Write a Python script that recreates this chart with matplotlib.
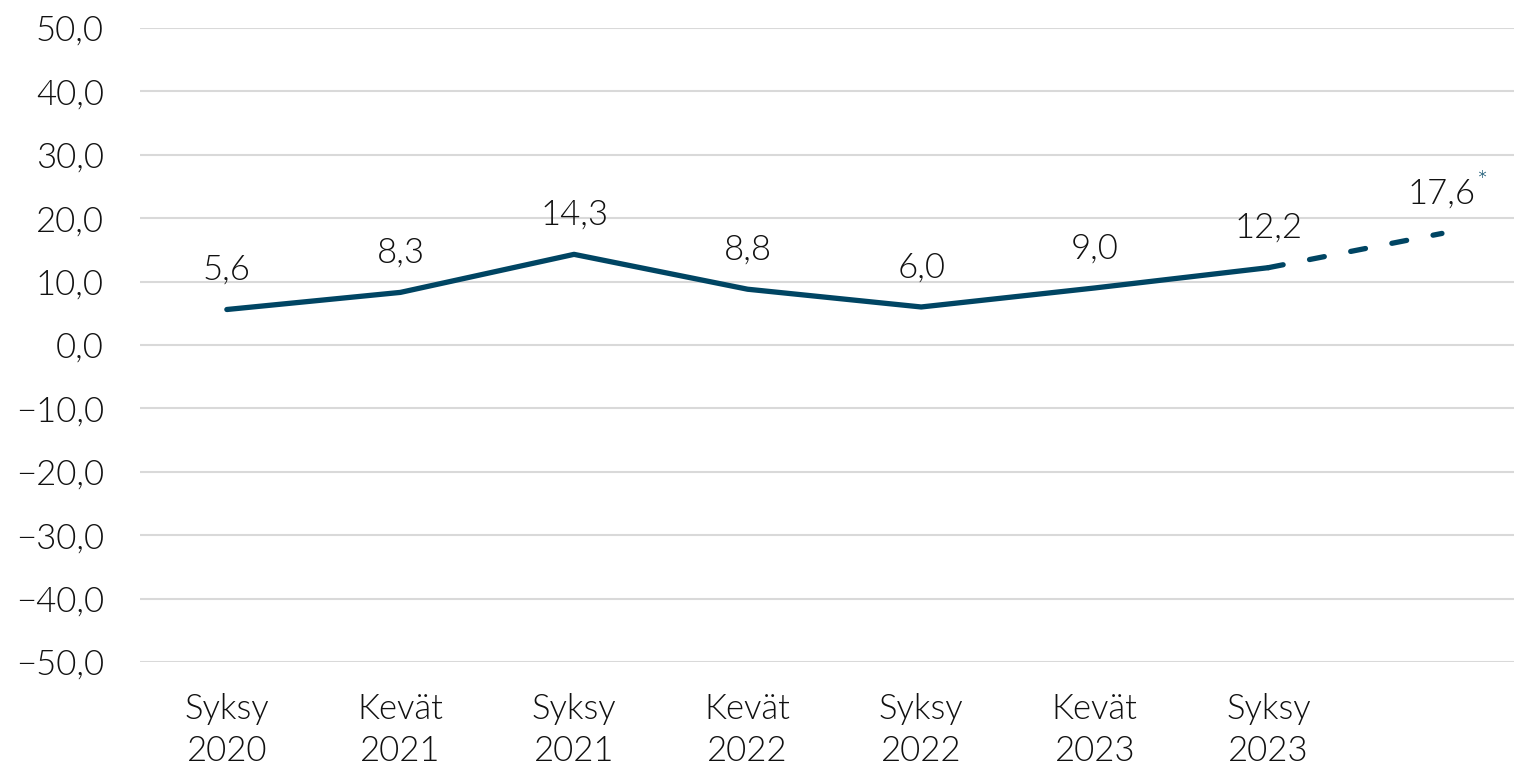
import matplotlib
matplotlib.use("Agg")
import matplotlib.pyplot as plt

plt.rcParams['font.family'] = ['Lato', 'DejaVu Sans']
plt.rcParams['font.weight'] = 300

periods = ["Syksy\n2020", "Kevät\n2021", "Syksy\n2021", "Kevät\n2022",
           "Syksy\n2022", "Kevät\n2023", "Syksy\n2023", ""]
values = [5.6, 8.3, 14.3, 8.8, 6.0, 9.0, 12.2, 17.6]
n_actual = 7  # last point is a forecast
yticks = [-50, -40, -30, -20, -10, 0, 10, 20, 30, 40, 50]

line_color = "#004563"
text_color = "#111111"
fs = 25


def fi(v):
    return f"{v:.1f}".replace(".", ",").replace("-", "\u2212")


fig = plt.figure(figsize=(15.14, 7.65), dpi=100)
ax = fig.add_axes([0.0925, 0.1346, 0.9075, 0.8288])

x = list(range(len(values)))
ax.plot(x[:n_actual], values[:n_actual], color=line_color, lw=3.8,
        solid_capstyle='round', solid_joinstyle='round')
ax.plot(x[n_actual - 1:], values[n_actual - 1:], color=line_color, lw=3.8,
        dashes=(2.85, 5.1), dash_capstyle='round')

for xi, v in zip(x, values):
    ax.annotate(fi(v), (xi, v), xytext=(0, 17),
                textcoords='offset points', ha='center', va='bottom',
                fontsize=fs, color=text_color, fontweight=300)
# asterisk on the forecast label
ax.annotate("*", (x[-1], values[-1]), xytext=(28.5, 28), textcoords='offset points',
            ha='center', va='bottom', fontsize=19, color=line_color)

ax.set_ylim(-50, 50)
ax.set_xlim(-0.5, 7.415)
ax.set_yticks(yticks)
ax.set_yticklabels([fi(t) for t in yticks])
ax.set_xticks(x)
ax.set_xticklabels(periods)
ax.tick_params(length=0, labelsize=fs, labelcolor=text_color, pad=22)
ax.tick_params(axis='y', pad=26)
for lab in ax.get_xticklabels() + ax.get_yticklabels():
    lab.set_fontweight(300)
for lab in ax.get_xticklabels():
    lab.set_linespacing(1.4)
ax.grid(axis='y', color='#d9d9d9', lw=1.5)
ax.set_axisbelow(True)
for s in ax.spines.values():
    s.set_visible(False)

fig.savefig("out.png", dpi=100)
